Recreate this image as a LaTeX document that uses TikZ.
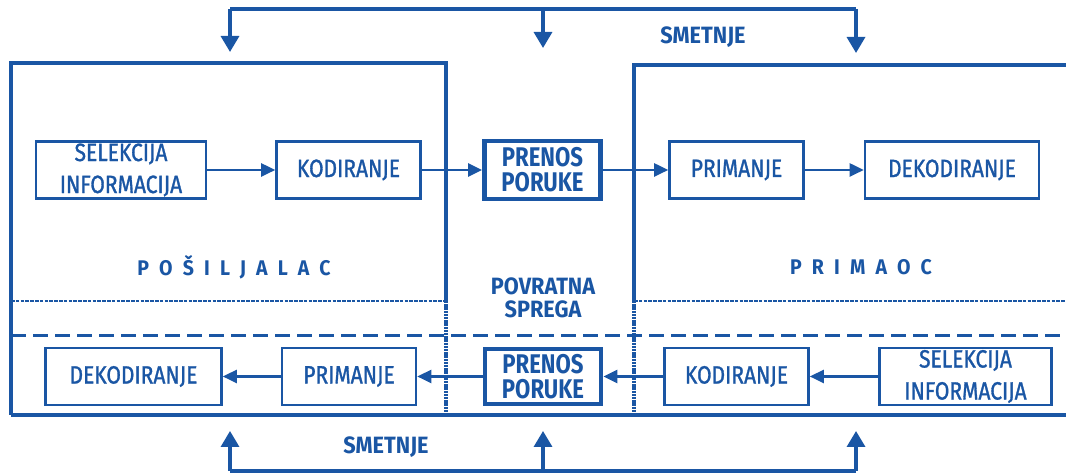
\documentclass[tikz,border=0pt]{standalone}
\usepackage{fontspec}
\setmainfont{Fira Sans}[FakeStretch=0.82]
\newfontfamily\uski{Fira Sans}[FakeStretch=0.84,FakeBold=1.2]
\newfontfamily\natpis{Fira Sans}[FakeStretch=0.92]
\usetikzlibrary{arrows.meta}
\definecolor{plava}{RGB}{26,86,164}

\begin{document}
\begin{tikzpicture}[x=0.5pt,y=0.5pt,yscale=-1,
  korak/.style={draw=plava,line width=1.3pt,minimum height=28.5pt,inner sep=0pt,text=plava,align=center,font=\uski\fontsize{12.5}{16}\selectfont},
  prenos/.style={korak,line width=2.4pt,font=\fontsize{13.5}{12.5}\selectfont\bfseries},
  veza/.style={draw=plava,line width=1.3pt,-{Triangle[length=7pt,width=6.5pt]}},
  okvir/.style={draw=plava,line width=1.7pt},
  tacke/.style={draw=plava,line width=1.7pt,dash pattern=on 1.2pt off 0.4pt},
  tackice/.style={draw=plava,line width=1.4pt,dash pattern=on 1.8pt off 0.6pt},
  crtice/.style={draw=plava,line width=1.5pt,dash pattern=on 7.5pt off 3.5pt},
  smetnja/.style={draw=plava,line width=1.7pt},
  strelica/.style={smetnja,-{Triangle[length=8pt,width=9pt]}},
  oznaka/.style={text=plava,inner sep=0pt,align=center,font=\natpis\fontsize{11.8}{11.5}\selectfont\bfseries},
  strana/.style={text=plava,inner sep=0pt,font=\natpis\fontsize{10.6}{11}\selectfont\bfseries\addfontfeature{LetterSpace=48}}]
\useasboundingbox (0,0) rectangle (1066,474);

% okviri posiljaoca i primaoca
\draw[okvir] (11,415) -- (11,63) -- (446,63) -- (446,301);
\draw[tacke] (446,301) -- (446,415);
\draw[okvir] (1070,65) -- (634,65) -- (634,301);
\draw[tacke] (634,301) -- (634,415);
\draw[okvir] (11,415) -- (1070,415);
\draw[tackice] (11,301) -- (446,301);
\draw[tackice] (634,301) -- (1070,301);
\draw[crtice] (11,336) -- (1070,336);

% gornji red
\node[korak,minimum width=85pt] (sel1) at (121,170) {SELEKCIJA\\INFORMACIJA};
\node[korak,minimum width=72pt] (kod1) at (348.5,170) {KODIRANJE};
\node[prenos,minimum width=58pt,minimum height=29pt] (pren1) at (542.5,170) {PRENOS\\PORUKE};
\node[korak,minimum width=67pt] (prim1) at (736.5,170) {PRIMANJE};
\node[korak,minimum width=87pt] (dek1) at (952,170) {DEKODIRANJE};

% donji red
\node[korak,minimum width=88pt] (dek2) at (133.5,376.5) {DEKODIRANJE};
\node[korak,minimum width=67pt] (prim2) at (349,376.5) {PRIMANJE};
\node[prenos,minimum width=58pt,minimum height=27.5pt] (pren2) at (543,376.5) {PRENOS\\PORUKE};
\node[korak,minimum width=72pt] (kod2) at (736.5,376.5) {KODIRANJE};
\node[korak,minimum width=86pt] (sel2) at (965.5,376.5) {SELEKCIJA\\INFORMACIJA};

\draw[veza] (sel1) -- (kod1);
\draw[veza] (kod1) -- (pren1);
\draw[veza] (pren1) -- (prim1);
\draw[veza] (prim1) -- (dek1);
\draw[veza] (sel2) -- (kod2);
\draw[veza] (kod2) -- (pren2);
\draw[veza] (pren2) -- (prim2);
\draw[veza] (prim2) -- (dek2);

% natpisi
\node[strana] (posiljalac) at (234,267) {POŠILJALAC};
\node[strana] (primaoc) at (861,267) {PRIMAOC};
\node[oznaka] (povratna) at (543,298) {POVRATNA\\SPREGA};
\node[oznaka] (smetnjeg) at (703,37) {SMETNJE};
\node[oznaka] (smetnjed) at (386,447) {SMETNJE};

% smetnje
\coordinate (gl) at (230,9);
\coordinate (gd) at (856,9);
\coordinate (dl) at (230,471);
\coordinate (dd) at (856,471);
\draw[smetnja] (gl) -- (gd);
\draw[smetnja] (dl) -- (dd);
\foreach \x/\k in {230/52,543/48,856/53}
  \draw[strelica] (\x,9) -- (\x,\k);
\foreach \x in {230,543,856}
  \draw[strelica] (\x,471) -- (\x,431);

\end{tikzpicture}
\end{document}
